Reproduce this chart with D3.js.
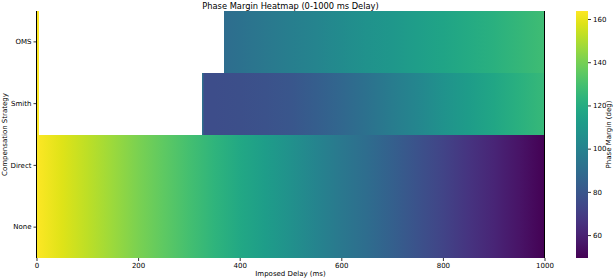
<!DOCTYPE html>
<html><head><meta charset="utf-8">
<script src="https://cdn.jsdelivr.net/npm/d3@7"></script>
<style>
html,body{margin:0;padding:0;background:#fff;}
svg{display:block;font-family:"DejaVu Sans",sans-serif;}
</style></head>
<body><svg id="chart" width="616" height="278"></svg>
<script>
// ---- data ----
const strategies = ["OMS", "Smith", "Direct", "None"];
const delayTicks = [0, 200, 400, 600, 800, 1000];
const colorTicks = [60, 80, 100, 120, 140, 160];
const pmRange = [49.4, 163.7];
const sampleStep = 5; // ms per sampled column

const baseDelays = [0,50,100,150,200,250,300,350,400,450,500,550,600,650,700,750,800,850,900,950,1000];
const pmNone   = [163.7,158.0,152.3,146.6,140.9,135.2,129.5,123.8,118.1,112.4,106.7,101.0,95.3,89.6,83.9,78.2,72.5,66.8,61.1,55.4,49.7];
const pmDirect = [163.7,158.0,152.3,146.6,140.9,135.2,129.5,123.8,118.1,112.4,106.7,101.0,95.3,89.6,83.9,78.2,72.5,66.8,61.1,55.4,49.7];

const smithDelays = [0, 5, 325, 330, 350, 400, 450, 500, 550, 600, 650, 700, 750, 800, 850, 900, 950, 1000];
const pmSmith     = [163.7, null, 100, 76, 76, 77, 78, 80, 83, 87, 92, 97, 102, 107, 112, 117, 122, 126];

const omsDelays = [0, 5, 370, 400, 450, 500, 550, 600, 650, 700, 750, 800, 850, 900, 950, 1000];
const pmOMS     = [163.7, null, 90, 92, 95, 98, 101, 104, 107, 110, 113, 116, 119, 122, 125, 128];

const rows = {
  "None":   {d: baseDelays, v: pmNone},
  "Direct": {d: baseDelays, v: pmDirect},
  "Smith":  {d: smithDelays, v: pmSmith},
  "OMS":    {d: omsDelays, v: pmOMS}
};

// ---- layout ----
const svg = d3.select("#chart");
const m = {left: 36.5, right: 544.5, top: 11, bottom: 258};
const x = d3.scaleLinear().domain([0, 1000]).range([m.left, m.right]);
const y = d3.scaleBand().domain(strategies).range([m.top, m.bottom]);
const color = d3.scaleSequential(d3.interpolateViridis).domain(pmRange);
const defs = svg.append("defs");

strategies.forEach((s, si) => {
  const r = rows[s];
  let runs = [], cur = [];
  r.d.forEach((d, i) => {
    if (r.v[i] == null) { if (cur.length) runs.push(cur); cur = []; }
    else cur.push({d: d, v: r.v[i]});
  });
  if (cur.length) runs.push(cur);
  runs.forEach((run, ri) => {
    const d0 = run[0].d;
    const d1 = run.length > 1 ? run[run.length - 1].d : d0 + sampleStep;
    const id = "g" + si + "_" + ri;
    const g = defs.append("linearGradient").attr("id", id)
      .attr("gradientUnits", "userSpaceOnUse")
      .attr("x1", x(d0)).attr("x2", x(d1)).attr("y1", 0).attr("y2", 0);
    if (run.length === 1) {
      g.append("stop").attr("offset", 0).attr("stop-color", color(run[0].v));
      g.append("stop").attr("offset", 1).attr("stop-color", color(run[0].v));
    } else {
      run.forEach(p => g.append("stop")
        .attr("offset", (x(p.d) - x(d0)) / (x(d1) - x(d0)))
        .attr("stop-color", color(p.v)));
    }
    const y0 = Math.round(y(s)), y1 = Math.round(y(s) + y.bandwidth());
    svg.append("rect")
      .attr("x", x(d0)).attr("y", y0)
      .attr("width", x(d1) - x(d0)).attr("height", y1 - y0)
      .attr("shape-rendering", "crispEdges")
      .attr("fill", "url(#" + id + ")");
  });
});

// ---- axes ----
const xAxis = svg.append("g").attr("transform", `translate(0,${m.bottom})`)
  .call(d3.axisBottom(x).tickValues(delayTicks).tickSize(3).tickPadding(2).tickFormat(d3.format("d")));
const yAxis = svg.append("g").attr("transform", `translate(${m.left},0)`)
  .call(d3.axisLeft(y).tickSize(3).tickPadding(2));
[xAxis, yAxis].forEach(a => {
  a.select(".domain").remove();
  a.selectAll("text").attr("font-size", 7).attr("font-family", "DejaVu Sans").attr("fill", "#000");
  a.selectAll("line").attr("stroke", "#000").attr("stroke-width", 0.8);
});
// spines
svg.append("line").attr("x1", m.left).attr("x2", m.left).attr("y1", m.top).attr("y2", m.bottom)
  .attr("stroke", "#000").attr("stroke-width", 1);
svg.append("line").attr("x1", m.right).attr("x2", m.right).attr("y1", m.top).attr("y2", m.bottom)
  .attr("stroke", "#000").attr("stroke-width", 1);

// ---- titles ----
svg.append("text").attr("x", (m.left + m.right) / 2).attr("y", 8.5)
  .attr("text-anchor", "middle").attr("font-size", 8.3).text("Phase Margin Heatmap (0-1000 ms Delay)");
svg.append("text").attr("x", (m.left + m.right) / 2).attr("y", 276)
  .attr("text-anchor", "middle").attr("font-size", 7).text("Imposed Delay (ms)");
svg.append("text").attr("transform", `translate(7,${(m.top + m.bottom) / 2}) rotate(-90)`)
  .attr("text-anchor", "middle").attr("font-size", 7).text("Compensation Strategy");

// ---- colorbar ----
const cb = {x: 576, w: 12};
const cy = d3.scaleLinear().domain(pmRange).range([m.bottom, m.top]);
const cg = defs.append("linearGradient").attr("id", "cbg").attr("x1", 0).attr("x2", 0).attr("y1", 1).attr("y2", 0);
d3.range(0, 1.0001, 0.05).forEach(t => cg.append("stop").attr("offset", t).attr("stop-color", d3.interpolateViridis(t)));
svg.append("rect").attr("x", cb.x).attr("y", m.top).attr("width", cb.w).attr("height", m.bottom - m.top).attr("fill", "url(#cbg)");
const cAxis = svg.append("g").attr("transform", `translate(${cb.x + cb.w},0)`)
  .call(d3.axisRight(cy).tickValues(colorTicks).tickSize(3).tickPadding(2));
cAxis.select(".domain").remove();
cAxis.selectAll("text").attr("font-size", 7).attr("font-family", "DejaVu Sans").attr("fill", "#000");
cAxis.selectAll("line").attr("stroke", "#000").attr("stroke-width", 0.8);
svg.append("text").attr("transform", `translate(611,${(m.top + m.bottom) / 2}) rotate(-90)`)
  .attr("text-anchor", "middle").attr("font-size", 7).text("Phase Margin (deg)");
</script></body></html>
